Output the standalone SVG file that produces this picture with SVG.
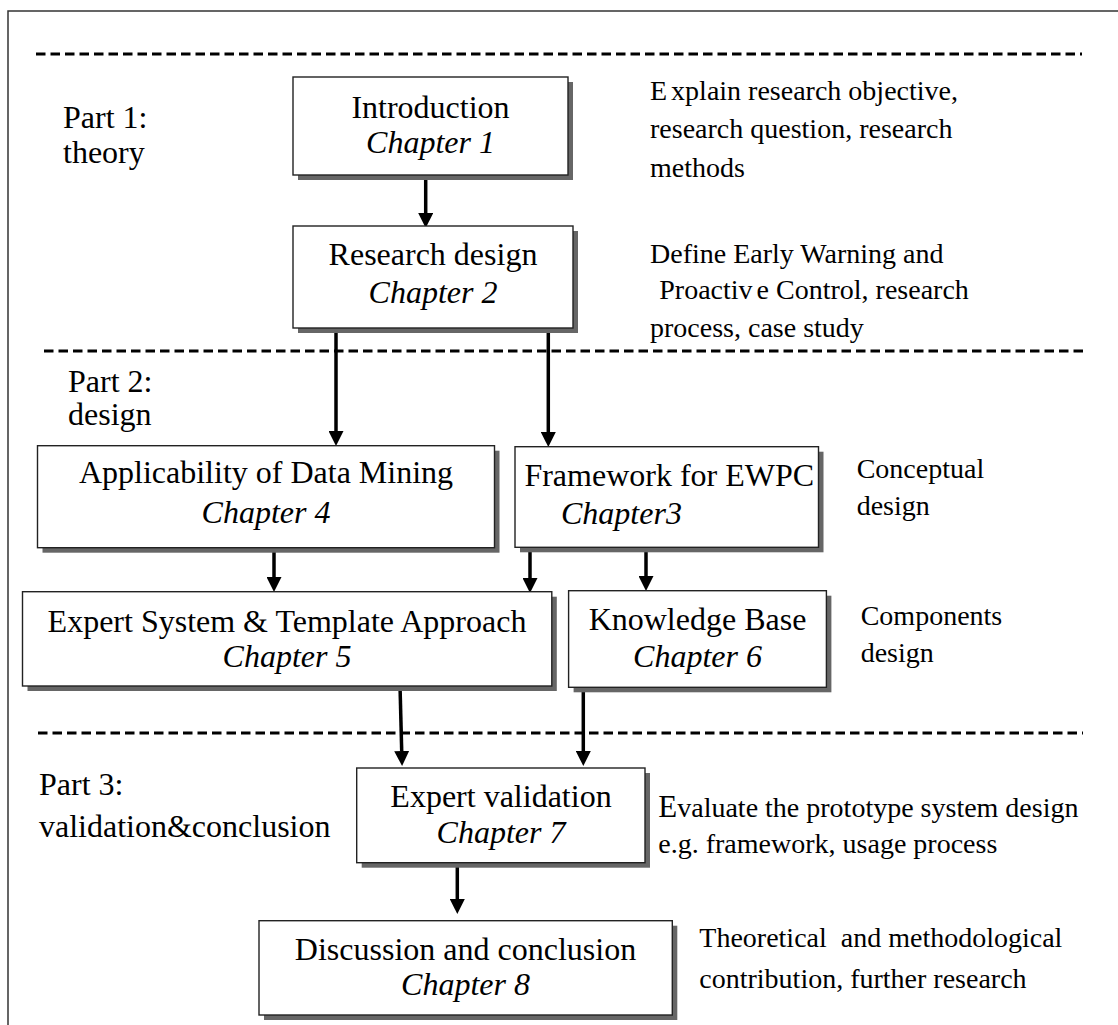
<svg xmlns="http://www.w3.org/2000/svg" width="1118" height="1025" viewBox="0 0 1118 1025">
  <defs>
    <style>
      text { font-family: "Liberation Serif", "Times New Roman", serif; fill: #000; }
      .title { font-size: 32px; text-anchor: middle; }
      .chap { font-size: 32px; font-style: italic; text-anchor: middle; }
      .part { font-size: 32px; }
      .note { font-size: 28px; white-space: pre; }
      .shadow { fill: #666; }
      .box { fill: #fff; stroke: #222; stroke-width: 1.4; }
      .divider { fill: none; stroke: #000; stroke-width: 3; stroke-dasharray: 9.5 5; }
      .frame { fill: none; stroke: #333; stroke-width: 1.5; }
      .conn { fill: none; stroke: #000; stroke-width: 3.5; marker-end: url(#arrow); }
    </style>
    <marker id="arrow" viewBox="0 0 15 15" refX="0" refY="7.5" markerWidth="15" markerHeight="15" markerUnits="userSpaceOnUse" orient="auto">
      <path d="M0,0 L15,7.5 L0,15 Z" fill="#000"/>
    </marker>
  </defs>

  <rect width="1118" height="1025" fill="#fff"/>

  <!-- page frame -->
  <path class="frame" d="M8,1025 V11 H1118"/>

  <!-- section dividers -->
  <g id="dividers">
    <line class="divider" x1="36" y1="54" x2="1082" y2="54"/>
    <line class="divider" x1="44" y1="351" x2="1088" y2="351"/>
    <line class="divider" x1="38" y1="733" x2="1083" y2="733"/>
  </g>

  <!-- part labels -->
  <g id="part-labels">
    <text class="part" x="63" y="128">Part 1:</text>
    <text class="part" x="63" y="163">theory</text>
    <text class="part" x="68" y="392">Part 2:</text>
    <text class="part" x="68" y="425">design</text>
    <text class="part" x="39" y="795">Part 3:</text>
    <text class="part" x="39" y="837">validation&amp;conclusion</text>
  </g>

  <!-- connectors -->
  <g id="connectors">
    <path class="conn" d="M425.7,173 V213"/>
    <path class="conn" d="M336,324 V431"/>
    <path class="conn" d="M548.3,324 V432"/>
    <path class="conn" d="M274,545 V577"/>
    <path class="conn" d="M530,546 V578"/>
    <path class="conn" d="M646,545 V576"/>
    <path class="conn" d="M400,685 L401.7,751"/>
    <path class="conn" d="M583.3,685 V751"/>
    <path class="conn" d="M457.3,866 V899"/>
  </g>

  <!-- chapter nodes -->
  <g id="introduction">
    <rect class="shadow" x="298" y="82" width="275" height="98"/>
    <rect class="box" x="293" y="77" width="275" height="98"/>
    <text class="title" x="430.5" y="118">Introduction</text>
    <text class="chap" x="430.5" y="153">Chapter 1</text>
  </g>

  <g id="research-design">
    <rect class="shadow" x="298" y="231" width="280" height="102"/>
    <rect class="box" x="293" y="226" width="280" height="102"/>
    <text class="title" x="433" y="265">Research design</text>
    <text class="chap" x="433" y="303">Chapter 2</text>
  </g>

  <g id="applicability">
    <rect class="shadow" x="42.5" y="450.7" width="457" height="102"/>
    <rect class="box" x="37.5" y="445.7" width="457" height="102"/>
    <text class="title" x="266" y="483.3">Applicability of Data Mining</text>
    <text class="chap" x="266" y="523.3">Chapter 4</text>
  </g>

  <g id="framework">
    <rect class="shadow" x="520" y="451.7" width="303.5" height="100.6"/>
    <rect class="box" x="515" y="446.7" width="303.5" height="100.6"/>
    <text class="title" x="524.4" y="486" style="text-anchor:start">Framework for EWPC</text>
    <text class="chap" x="561" y="524" style="text-anchor:start">Chapter3</text>
  </g>

  <g id="expert-system">
    <rect class="shadow" x="27.5" y="596.7" width="529.3" height="94.3"/>
    <rect class="box" x="22.5" y="591.7" width="529.3" height="94.3"/>
    <text class="title" x="287" y="631.7">Expert System &amp; Template Approach</text>
    <text class="chap" x="287" y="667.3">Chapter 5</text>
  </g>

  <g id="knowledge-base">
    <rect class="shadow" x="573.6" y="595.7" width="257.8" height="96.6"/>
    <rect class="box" x="568.6" y="590.7" width="257.8" height="96.6"/>
    <text class="title" x="697.5" y="630">Knowledge Base</text>
    <text class="chap" x="697.5" y="667.3">Chapter 6</text>
  </g>

  <g id="expert-validation">
    <rect class="shadow" x="361.7" y="773" width="288.3" height="94.7"/>
    <rect class="box" x="356.7" y="768" width="288.3" height="94.7"/>
    <text class="title" x="501" y="806.7">Expert validation</text>
    <text class="chap" x="501" y="843.3">Chapter 7</text>
  </g>

  <g id="discussion">
    <rect class="shadow" x="264" y="925.7" width="413.3" height="94.3"/>
    <rect class="box" x="259" y="920.7" width="413.3" height="94.3"/>
    <text class="title" x="465.5" y="960">Discussion and conclusion</text>
    <text class="chap" x="465.5" y="995">Chapter 8</text>
  </g>

  <!-- side notes -->
  <g id="notes">
    <text class="note" x="650" y="100">E<tspan dx="4">xplain research objective,</tspan></text>
    <text class="note" x="650" y="138.3">research question, research</text>
    <text class="note" x="650" y="176.7">methods</text>

    <text class="note" x="650" y="262.7">Define Early Warning and</text>
    <text class="note" x="659.3" y="299.3">Proactiv<tspan dx="4">e Control, research</tspan></text>
    <text class="note" x="650" y="336.7">process, case study</text>

    <text class="note" x="856.7" y="478.3">Conceptual</text>
    <text class="note" x="856.7" y="515">design</text>

    <text class="note" x="860.7" y="625">Components</text>
    <text class="note" x="860.7" y="661.7">design</text>

    <text class="note" x="658.3" y="816.7"><tspan style="font-size:31px">E</tspan>valuate the prototype system design</text>
    <text class="note" x="658.3" y="853.3">e.g. framework, usage process</text>

    <text class="note" x="699.3" y="946.7">Theoretical  and methodological</text>
    <text class="note" x="699.3" y="988.3">contribution, further research</text>
  </g>
</svg>
